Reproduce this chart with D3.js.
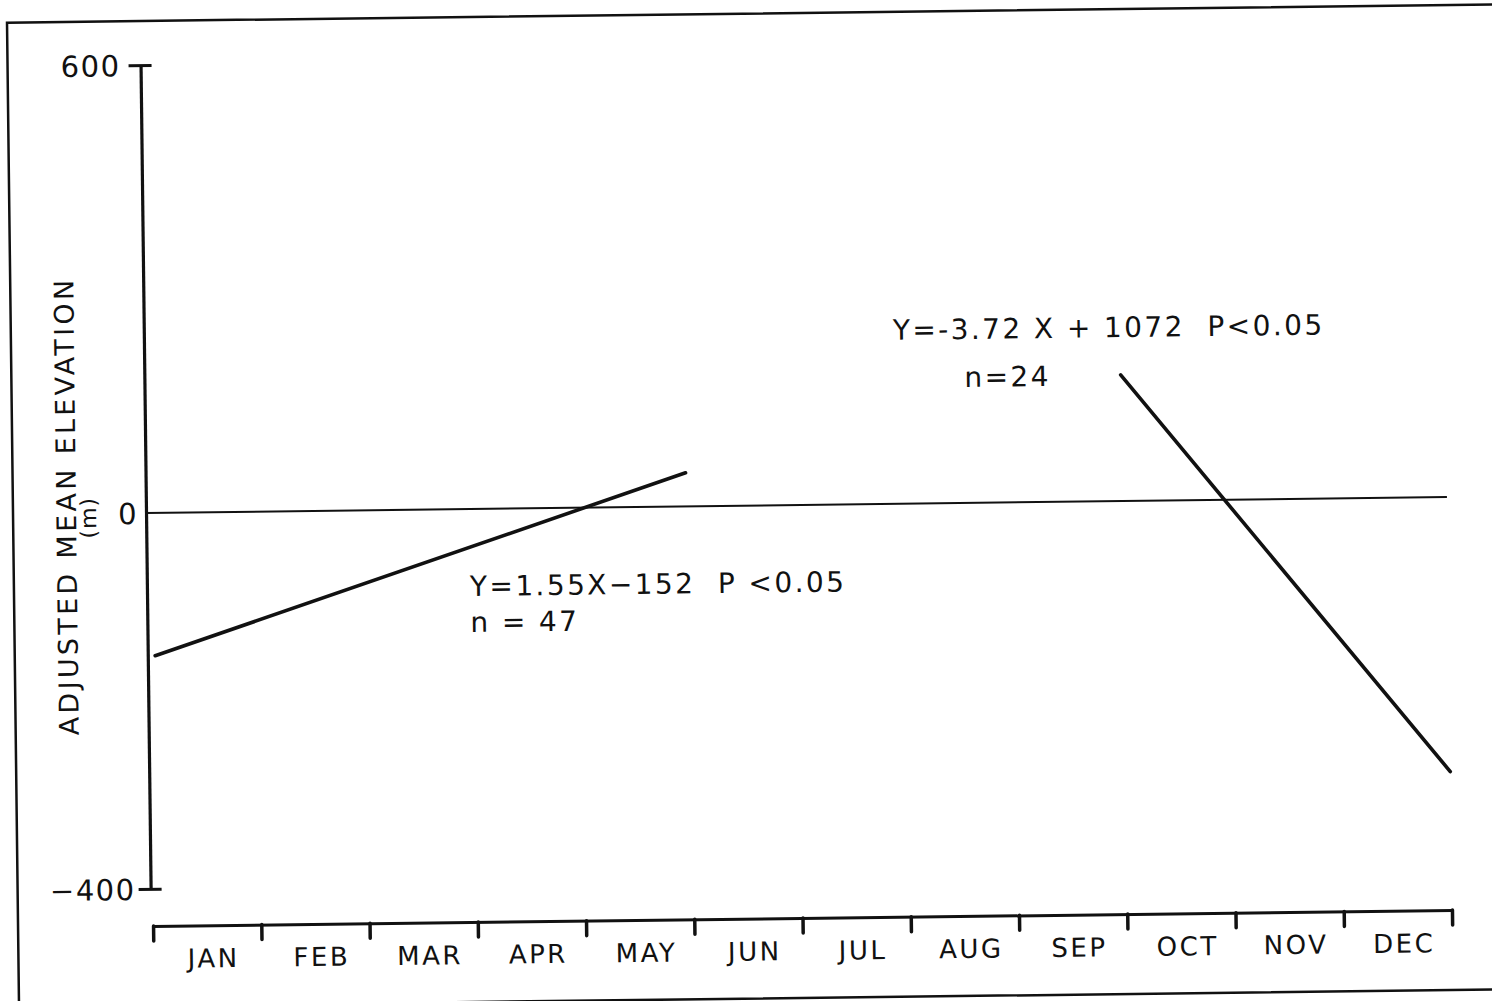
<!DOCTYPE html>
<html>
<head>
<meta charset="utf-8">
<script src="https://cdn.jsdelivr.net/npm/d3@7"></script>
<style>
  html, body { margin: 0; padding: 0; background: #fff; }
  svg { display: block; }
  text { font-family: "DejaVu Sans", "Liberation Sans", sans-serif; fill: #111; }
</style>
</head>
<body>
<script>
// Month bands along the time axis
const months = ["JAN","FEB","MAR","APR","MAY","JUN","JUL","AUG","SEP","OCT","NOV","DEC"];
// Elevation ticks (m)
const yTicks = [-400, 0, 600];
// Fitted regression segments: month position (0 = 1 Jan) and adjusted elevation (m)
const springFit = [{ m: 0.05, v: -152 }, { m: 4.97, v: 45 }];
const autumnFit = [{ m: 9.0, v: 169 }, { m: 12.0, v: -292 }];
// Equation annotations
const springLabel = ["Y=1.55X\u2212152  P <0.05", "n = 47"];
const autumnLabel = ["Y=-3.72 X + 1072  P<0.05", "n=24"];

const W = 1492, H = 1001;
const svg = d3.select("body").append("svg").attr("width", W).attr("height", H);

// whole plate sits slightly askew on the page
const g = svg.append("g").attr("transform", "rotate(-0.7,145,512)");

// outer frame
g.append("rect")
  .attr("x", 13).attr("y", 21).attr("width", 1492).attr("height", 985)
  .attr("fill", "none").attr("stroke", "#111").attr("stroke-width", 2.5);

const x = d3.scaleLinear().domain([0, 12]).range([148, 1447]);
const y = d3.scaleLinear().domain([-400, 0, 600]).range([889, 513, 65]);

// Y axis
const yAxis = g.append("g").attr("transform", "translate(146,0)")
  .call(d3.axisLeft(y).tickValues(yTicks).tickSizeOuter(0).tickSize(0).tickPadding(22));
yAxis.select(".domain").attr("stroke", "#111").attr("stroke-width", 3.2);
yAxis.selectAll(".tick line")
  .attr("x1", d => d === 0 ? 0 : 11)
  .attr("x2", d => d === 0 ? 0 : -12)
  .attr("stroke", "#111").attr("stroke-width", 3);
yAxis.selectAll(".tick text")
  .text(d => d < 0 ? "\u2212" + Math.abs(d) : d)
  .attr("x", d => d === 0 ? -8 : (d < 0 ? -15 : -20))
  .attr("dy", "0.36em")
  .style("font-size", "29px")
  .style("letter-spacing", "1.5px")
  .style("font-family", "'DejaVu Sans', sans-serif")
  .attr("fill", "#111");

// zero reference line
g.append("line")
  .attr("x1", 146).attr("x2", x(12))
  .attr("y1", y(0)).attr("y2", y(0))
  .attr("stroke", "#111").attr("stroke-width", 2);

// X axis with month bands
const xAxis = g.append("g").attr("transform", "translate(0,926)")
  .call(d3.axisBottom(x).tickValues(d3.range(13)).tickSize(15).tickSizeOuter(0).tickFormat(""));
xAxis.select(".domain").attr("stroke", "#111").attr("stroke-width", 3);
xAxis.selectAll(".tick line").attr("stroke", "#111").attr("stroke-width", 3.5).attr("stroke-linecap", "round");

g.append("g").selectAll("text").data(months).join("text")
  .attr("x", (d, i) => x(i + 0.5) + 6)
  .attr("y", 968)
  .attr("text-anchor", "middle")
  .style("font-size", "26px")
  .style("letter-spacing", "2.5px")
  .text(d => d);

// axis title
const title = g.append("g").attr("transform", "translate(76,505) rotate(-90)");
title.append("text")
  .attr("text-anchor", "middle")
  .style("font-size", "27px")
  .style("letter-spacing", "3.3px")
  .text("ADJUSTED MEAN ELEVATION");
title.append("text")
  .attr("x", -12).attr("y", 20)
  .attr("text-anchor", "middle")
  .style("font-size", "22px")
  .style("letter-spacing", "1px")
  .text("(m)");

// regression lines
const line = d3.line().x(d => x(d.m)).y(d => y(d.v));
[springFit, autumnFit].forEach(seg => {
  g.append("path")
    .attr("d", line(seg))
    .attr("fill", "none")
    .attr("stroke", "#111")
    .attr("stroke-width", 3.6)
    .attr("stroke-linecap", "round");
});

// equation annotations
function annotate(lines, x0, y0, x1, y1) {
  const t = g.append("g");
  t.append("text").attr("x", x0).attr("y", y0)
    .style("font-size", "28px").style("letter-spacing", "2.4px")
    .style("white-space", "pre").attr("xml:space", "preserve")
    .text(lines[0]);
  t.append("text").attr("x", x1).attr("y", y1)
    .style("font-size", "28px").style("letter-spacing", "2.4px")
    .style("white-space", "pre").attr("xml:space", "preserve")
    .text(lines[1]);
}
annotate(springLabel, 469, 600, 469, 636);
annotate(autumnLabel, 895, 349, 966, 397);
</script>
</body>
</html>
